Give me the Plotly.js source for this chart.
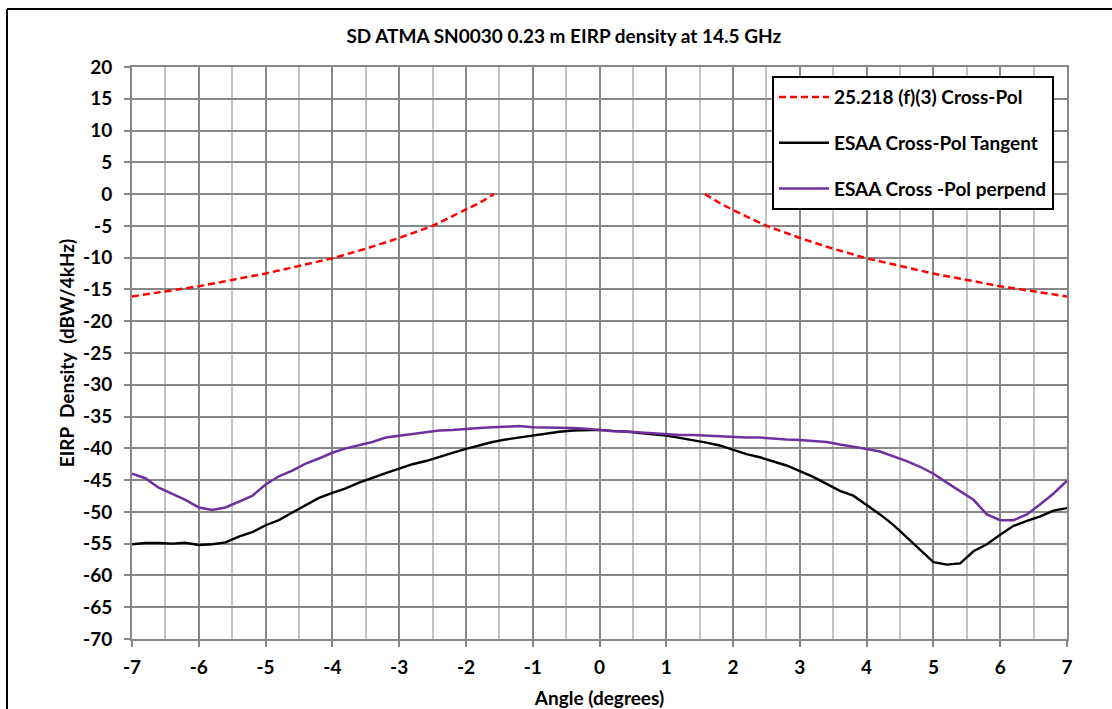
<!DOCTYPE html>
<html>
<head>
<meta charset="utf-8">
<script src="https://cdn.plot.ly/plotly-3.0.1.min.js"></script>
<style>html,body{margin:0;padding:0;background:#fff;}#chart{width:1112px;height:709px;}</style>
</head>
<body>
<div id="chart"></div>
<script>
// ---- Data ----
const chartTitle = "SD ATMA SN0030 0.23 m EIRP density at 14.5 GHz";
const xTitle = "Angle (degrees)";
const yTitle = "EIRP\u00a0\u00a0Density\u00a0\u00a0(dBW/4kHz)";
const seriesNames = ["25.218 (f)(3) Cross-Pol", "ESAA Cross-Pol Tangent", "ESAA Cross -Pol perpend"];

const xTickVals = [-7, -6, -5, -4, -3, -2, -1, 0, 1, 2, 3, 4, 5, 6, 7];
const xTickText = ["-7", "-6", "-5", "-4", "-3", "-2", "-1", "0", "1", "2", "3", "4", "5", "6", "7"];
const yTickVals = [20, 15, 10, 5, 0, -5, -10, -15, -20, -25, -30, -35, -40, -45, -50, -55, -60, -65, -70];
const yTickText = ["20", "15", "10", "5", "0", "-5", "-10", "-15", "-20", "-25", "-30", "-35", "-40",
                   "-45", "-50", "-55", "-60", "-65", "-70"];

const maskAngles = [-7, -6.5, -6, -5.5, -5, -4.5, -4, -3.5, -3, -2.5, -2, -1.8, -1.58, null,
                    1.58, 1.8, 2, 2.5, 3, 3.5, 4, 4.5, 5, 5.5, 6, 6.5, 7];
const maskValues = [-16.1, -15.3, -14.5, -13.5, -12.5, -11.3, -10.1, -8.6, -6.9, -5.0, -2.5, -1.4, 0, null,
                    0, -1.4, -2.5, -5.0, -6.9, -8.6, -10.1, -11.3, -12.5, -13.5, -14.5, -15.3, -16.1];

const esaaAngles = [-7, -6.8, -6.6, -6.4, -6.2, -6, -5.8, -5.6, -5.4, -5.2,
                    -5, -4.8, -4.6, -4.4, -4.2, -4, -3.8, -3.6, -3.4, -3.2,
                    -3, -2.8, -2.6, -2.4, -2.2, -2, -1.8, -1.6, -1.4, -1.2,
                    -1, -0.8, -0.6, -0.4, -0.2, 0, 0.2, 0.4, 0.6, 0.8,
                    1, 1.2, 1.4, 1.6, 1.8, 2, 2.2, 2.4, 2.6, 2.8,
                    3, 3.2, 3.4, 3.6, 3.8, 4, 4.2, 4.4, 4.6, 4.8,
                    5, 5.2, 5.4, 5.6, 5.8, 6, 6.2, 6.4, 6.6, 6.8, 7];

const tangentValues = [-55.1, -54.9, -54.9, -55.0, -54.85, -55.2, -55.1, -54.8, -53.9, -53.2,
                       -52.1, -51.3, -50.1, -49.0, -47.8, -47.0, -46.3, -45.4, -44.6, -43.9,
                       -43.2, -42.5, -42.0, -41.3, -40.7, -40.1, -39.5, -39.0, -38.6, -38.3,
                       -37.9, -37.6, -37.4, -37.2, -37.1, -37.1, -37.25, -37.35, -37.6, -37.8,
                       -38.0, -38.35, -38.7, -39.1, -39.55, -40.2, -40.9, -41.4, -42.0, -42.7,
                       -43.6, -44.5, -45.6, -46.7, -47.45, -48.9, -50.4, -52.05, -54.0, -56.0,
                       -57.9, -58.3, -58.1, -56.2, -55.1, -53.6, -52.2, -51.4, -50.7, -49.8, -49.4];

const perpendValues = [-44.0, -44.7, -46.2, -47.2, -48.1, -49.3, -49.7, -49.3, -48.4, -47.5,
                       -45.7, -44.4, -43.5, -42.4, -41.6, -40.7, -40.0, -39.5, -39.0, -38.3,
                       -38.0, -37.8, -37.5, -37.2, -37.1, -36.9, -36.8, -36.7, -36.6, -36.5,
                       -36.7, -36.7, -36.7, -36.8, -36.9, -37.1, -37.3, -37.35, -37.5, -37.6,
                       -37.7, -37.9, -37.9, -38.0, -38.2, -38.3, -38.3, -38.3, -38.5, -38.6,
                       -38.7, -38.8, -39.0, -39.4, -39.7, -40.1, -40.5, -41.2, -42.0, -42.9,
                       -44.0, -45.4, -46.8, -48.1, -50.4, -51.3, -51.3, -50.4, -48.8, -47.1, -45.1];

const xRange = [-7, 7];
const yRange = [-70, 20];

// ---- Drawing ----
const FONT = "Lato, 'Open Sans', 'Liberation Sans', sans-serif";
const GRID = "#878787";
const MINOR = "#c4c4c4";

const traces = [
  {x: maskAngles, y: maskValues, name: seriesNames[0], mode: "lines", legendgroup: "a",
   connectgaps: false, line: {color: "#ff0000", width: 2.5, dash: "7px,4px"}},
  {x: esaaAngles, y: tangentValues, name: seriesNames[1], mode: "lines", legendgroup: "b",
   line: {color: "#000000", width: 2.4}},
  {x: esaaAngles, y: perpendValues, name: seriesNames[2], mode: "lines", legendgroup: "c",
   line: {color: "#7030a0", width: 2.5}}
];

const boldFont = (s) => ({family: FONT, size: s, weight: "bold", color: "#000"});

const layout = {
  width: 1112, height: 709,
  margin: {l: 132, r: 45, t: 67, b: 70, pad: 0},
  paper_bgcolor: "#ffffff", plot_bgcolor: "#ffffff",
  font: {family: FONT, color: "#000", size: 16},
  title: {text: chartTitle, xref: "container", yref: "container", x: 0.507, y: 0.949,
          xanchor: "center", yanchor: "middle", font: boldFont(19)},
  xaxis: {range: xRange, tickmode: "array", tickvals: xTickVals, ticktext: xTickText,
          showgrid: true, gridcolor: GRID, gridwidth: 2,
          minor: {dtick: 0.5, tick0: 0, showgrid: true, gridcolor: MINOR, gridwidth: 2},
          zeroline: false, showline: true, linecolor: GRID, linewidth: 2, mirror: true,
          ticks: "outside", ticklen: 6, tickwidth: 2, tickcolor: GRID, ticklabelstandoff: 4,
          tickfont: boldFont(19),
          title: {text: xTitle, standoff: 15, font: boldFont(19)},
          fixedrange: true},
  yaxis: {range: yRange, tickmode: "array", tickvals: yTickVals, ticktext: yTickText,
          showgrid: true, gridcolor: GRID, gridwidth: 2,
          zeroline: false, showline: true, linecolor: GRID, linewidth: 2, mirror: true,
          ticks: "outside", ticklen: 6, tickwidth: 2, tickcolor: GRID, ticklabelstandoff: 8,
          tickfont: boldFont(19),
          title: {text: yTitle, standoff: 3, font: boldFont(19)},
          fixedrange: true},
  showlegend: true,
  legend: {x: 0.6845, y: 0.984, xanchor: "left", yanchor: "top",
           bgcolor: "#ffffff", bordercolor: "#000000", borderwidth: 2,
           traceorder: "grouped", tracegroupgap: 18, itemwidth: 50,
           font: boldFont(19)},
  shapes: [
    {type: "line", xref: "paper", yref: "paper", x0: -0.1337, x1: -0.1337, y0: -0.2, y1: 1.1014,
     line: {color: "#000", width: 2}},
    {type: "line", xref: "paper", yref: "paper", x0: -0.1337, x1: 1.07, y0: 1.1014, y1: 1.1014,
     line: {color: "#000", width: 2}}
  ]
};

Plotly.newPlot("chart", traces, layout, {displayModeBar: false, staticPlot: true});
</script>
</body>
</html>
